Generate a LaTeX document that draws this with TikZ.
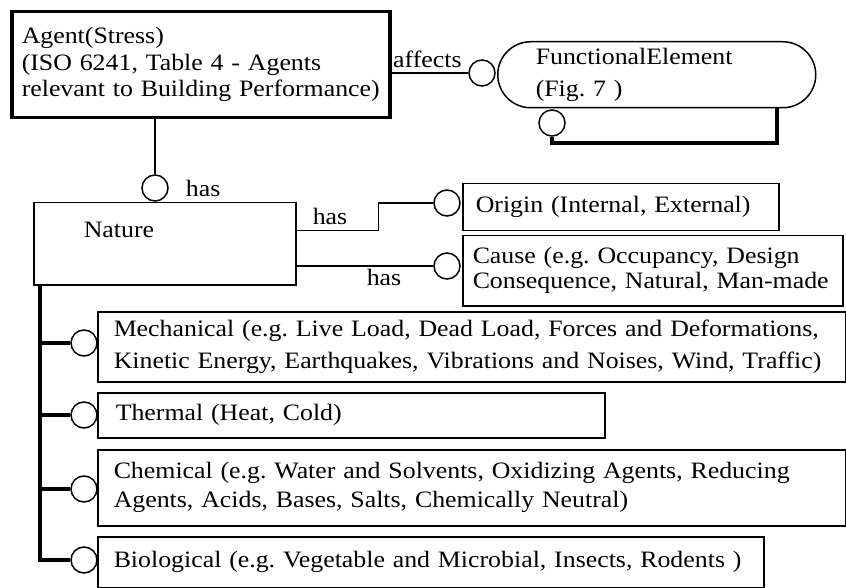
\documentclass[tikz,border=0pt]{standalone}
\usepackage{fontspec}
\setmainfont{Liberation Serif}[FakeStretch=1.1]
\usepackage{tikz}
\usetikzlibrary{positioning}
\frenchspacing
\newcommand{\setfs}[1]{\fontsize{23.5pt}{#1pt}\selectfont}
\tikzstyle{box} = [rectangle, draw, line width=1.5pt, anchor=north west, align=left, inner ysep=0pt]
\tikzstyle{ring} = [circle, draw, line width=1.5pt, minimum size=26pt, inner sep=0pt, fill=white]
\tikzstyle{bar} = [line width=4.5pt]
\tikzstyle{lnk} = [line width=1.5pt]
\tikzstyle{lbl} = [inner sep=0pt]

\begin{document}
\begin{tikzpicture}[x=1pt, y=-1pt, font=\setfs{27}]
   \useasboundingbox (0,0) rectangle (846,588);
   % Place nodes
   \node [box, line width=3.5pt, minimum width=378pt, minimum height=106pt, inner xsep=10pt, text width=358pt, font=\setfs{26.5}] (agent) at (10,10) {Agent(Stress)\\(ISO 6241, Table 4 - Agents\\relevant to Building Performance)};
   \node [box, rounded corners=33pt, minimum width=318pt, minimum height=66pt, inner xsep=38pt, text width=242pt, font=\setfs{32}] (func) at (497,41) {FunctionalElement\\(Fig. 7 )};
   \node [box, minimum width=262pt, minimum height=82pt, inner xsep=50pt, text width=162pt] (nature) at (33,202) {Nature\\\mbox{}};
   \node [box, minimum width=316pt, minimum height=47pt, inner xsep=13pt, text width=290pt] (origin) at (462,183) {Origin (Internal, External)};
   \node [box, minimum width=380pt, minimum height=70pt, inner xsep=10pt, text width=360pt, font=\setfs{25}] (cause) at (462,235) {Cause (e.g. Occupancy, Design\\Consequence, Natural, Man-made};
   \node [box, minimum width=748pt, minimum height=70pt, inner xsep=16pt, text width=716pt, font=\setfs{32}] (mech) at (97,311) {Mechanical (e.g. Live Load, Dead Load, Forces and Deformations,\\Kinetic Energy, Earthquakes, Vibrations and Noises, Wind, Traffic)};
   \node [box, minimum width=507pt, minimum height=45pt, inner xsep=18pt, text width=471pt] (therm) at (97,392) {Thermal (Heat, Cold)};
   \node [box, minimum width=748pt, minimum height=76pt, inner xsep=16pt, text width=716pt, font=\setfs{29}] (chem) at (97,449) {Chemical (e.g. Water and Solvents, Oxidizing Agents, Reducing\\Agents, Acids, Bases, Salts, Chemically Neutral)};
   \node [box, minimum width=666pt, minimum height=51pt, inner xsep=16pt, text width=634pt] (bio) at (97,536) {Biological (e.g. Vegetable and Microbial, Insects, Rodents )};
   % Circles
   \node [ring] (cHas) at (155,188) {};
   \node [ring] (cAff) at (482,73) {};
   \node [ring] (cSelf) at (552,123) {};
   \node [ring] (cOri) at (447,203) {};
   \node [ring] (cCau) at (447,266) {};
   \node [ring] (cMech) at (84,343) {};
   \node [ring] (cTherm) at (84,415) {};
   \node [ring] (cChem) at (84,489) {};
   \node [ring] (cBio) at (84,560) {};
   % Labels
   \node [lbl, right = 17pt of cHas] (lHas) {has};
   \node [lbl, anchor=west] (lAff) at (393,59) {affects};
   \node [lbl] (lOri) at (330,216) {has};
   \node [lbl] (lCau) at (384,277) {has};
   % Connectors
   \draw[lnk] (agent.south -| cHas) -- (cHas.north);
   \draw[lnk] (agent.east |- cAff) -- (cAff.west);
   \draw[lnk] ([yshift=13pt]nature.east) -| ([xshift=-55pt]cOri.west) -- (cOri.west);
   \draw[lnk] (nature.east |- cCau) -- (cCau.west);
   \coordinate (lp) at (777,143);
   \draw[bar] (cSelf.south) |- (lp) -- (lp |- func.south);
   \coordinate (trk) at ([xshift=7pt]nature.south west);
   \draw[bar] (trk) |- (cBio.west);
   \foreach \c in {cMech, cTherm, cChem}
      \draw[bar] (trk |- \c) -- (\c.west);
\end{tikzpicture}
\end{document}
